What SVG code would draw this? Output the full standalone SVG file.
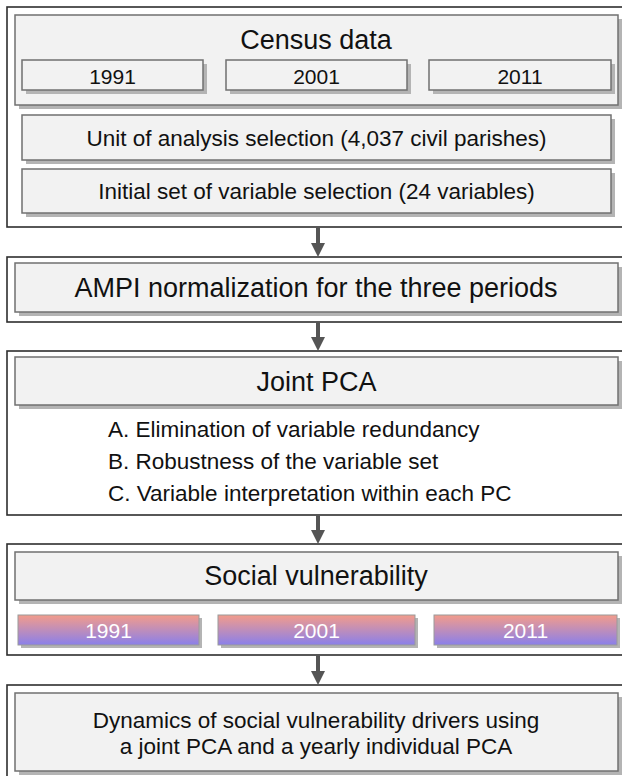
<svg xmlns="http://www.w3.org/2000/svg" width="622" height="776" viewBox="0 0 622 776">
<defs>
<linearGradient id="grad" x1="0" y1="0" x2="0" y2="1">
<stop offset="0" stop-color="#f39c8b"/>
<stop offset="1" stop-color="#8a7fea"/>
</linearGradient>
<style>
.outer{fill:#ffffff;stroke:#2e2e2e;stroke-width:1.6}
.box{fill:#f2f2f2;stroke:#707070;stroke-width:1.5}
.shadow{fill:#b4b4b4}
.gbox{fill:url(#grad);stroke:#9a9a9a;stroke-width:1}
text{font-family:"Liberation Sans",Arial,sans-serif;fill:#111111;text-anchor:middle}
.big{font-size:27px}
.mid{font-size:22.5px}
.yr{font-size:21px}
.wyr{font-size:21px;fill:#ffffff}
.list{font-size:22.5px;text-anchor:start}
.conn{stroke:#555555;stroke-width:4;fill:none}
.head{fill:#555555}
</style>
</defs>

<g id="census">
<rect class="outer" x="7" y="7" width="620" height="220"/>
<rect class="shadow" x="19" y="19" width="603" height="90"/>
<rect class="box" x="15" y="15" width="603" height="90"/>
<text class="big" x="316" y="49">Census data</text>
<rect class="shadow" x="26" y="64" width="181" height="30"/>
<rect class="box" x="22" y="60" width="181" height="30"/>
<text class="yr" x="112.5" y="84">1991</text>
<rect class="shadow" x="230" y="64" width="181" height="30"/>
<rect class="box" x="226" y="60" width="181" height="30"/>
<text class="yr" x="316.5" y="84">2001</text>
<rect class="shadow" x="433" y="64" width="182" height="30"/>
<rect class="box" x="429" y="60" width="182" height="30"/>
<text class="yr" x="520" y="84">2011</text>
<rect class="shadow" x="26" y="119" width="589" height="45"/>
<rect class="box" x="22" y="115" width="589" height="45"/>
<text class="mid" x="316.5" y="146">Unit of analysis selection (4,037 civil parishes)</text>
<rect class="shadow" x="26" y="173" width="589" height="44"/>
<rect class="box" x="22" y="169" width="589" height="44"/>
<text class="mid" x="316.5" y="199">Initial set of variable selection (24 variables)</text>
</g>

<g id="ampi">
<rect class="outer" x="7" y="257" width="620" height="65"/>
<rect class="shadow" x="19" y="267" width="603" height="49"/>
<rect class="box" x="15" y="263" width="603" height="49"/>
<text class="big" x="316" y="297">AMPI normalization for the three periods</text>
</g>

<g id="jointpca">
<rect class="outer" x="7" y="351" width="620" height="164"/>
<rect class="shadow" x="19" y="361" width="603" height="48"/>
<rect class="box" x="15" y="357" width="603" height="48"/>
<text class="big" x="316.5" y="391">Joint PCA</text>
<text class="list" x="108" y="437">A. Elimination of variable redundancy</text>
<text class="list" x="108" y="469">B. Robustness of the variable set</text>
<text class="list" x="108" y="501">C. Variable interpretation within each PC</text>
</g>

<g id="socialvuln">
<rect class="outer" x="7" y="544" width="620" height="111"/>
<rect class="shadow" x="19" y="556" width="603" height="48"/>
<rect class="box" x="15" y="552" width="603" height="48"/>
<text class="big" x="316" y="585">Social vulnerability</text>
<rect class="shadow" x="21" y="618" width="181" height="30"/>
<rect class="gbox" x="18" y="615" width="181" height="30"/>
<text class="wyr" x="108.5" y="638">1991</text>
<rect class="shadow" x="221" y="618" width="197" height="30"/>
<rect class="gbox" x="218" y="615" width="197" height="30"/>
<text class="wyr" x="316.5" y="638">2001</text>
<rect class="shadow" x="437" y="618" width="183" height="30"/>
<rect class="gbox" x="434" y="615" width="183" height="30"/>
<text class="wyr" x="525.5" y="638">2011</text>
</g>

<g id="dynamics">
<rect class="outer" x="7" y="685" width="620" height="100"/>
<rect class="shadow" x="19" y="697" width="603" height="78"/>
<rect class="box" x="15" y="693" width="603" height="78"/>
<text class="mid" x="316" y="728">Dynamics of social vulnerability drivers using</text>
<text class="mid" x="316" y="754">a joint PCA and a yearly individual PCA</text>
</g>

<g id="connectors">
<line class="conn" x1="318" y1="227" x2="318" y2="246"/>
<polygon class="head" points="311,243 325,243 318,257"/>
<line class="conn" x1="318" y1="322" x2="318" y2="340"/>
<polygon class="head" points="311,337 325,337 318,351"/>
<line class="conn" x1="318" y1="515" x2="318" y2="533"/>
<polygon class="head" points="311,530 325,530 318,544"/>
<line class="conn" x1="318" y1="655" x2="318" y2="674"/>
<polygon class="head" points="311,671 325,671 318,685"/>
</g>
</svg>
